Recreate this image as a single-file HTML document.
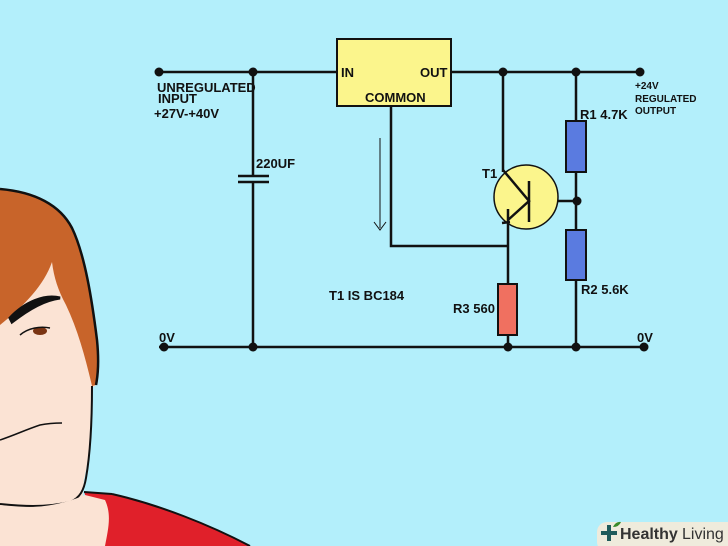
<!DOCTYPE html>
<html><head><style>
body{margin:0;width:728px;height:546px;overflow:hidden;background:#b3effb}
svg{display:block}
text{font-family:"Liberation Sans",sans-serif;font-weight:bold;fill:#111}
</style></head><body>
<svg width="728" height="546" viewBox="0 0 728 546" xmlns="http://www.w3.org/2000/svg">
<rect width="728" height="546" fill="#b3effb"/>
<!-- face -->
<path d="M0,189 C35,192 60,205 72,228 C85,255 92,300 97,340 C99,360 98,375 96,385 L92,388 C92,420 90,455 84,480 L82,505 C60,510 30,512 0,510 Z" fill="#fbe3d4"/>
<path d="M0,189 C35,192 60,205 72,228 C85,255 92,300 97,340 C99,360 98,375 96,385 L92,386 C86,360 78,330 66,305 C58,290 54,278 52,262 C44,285 25,305 0,325 Z" fill="#c8642a"/>
<path d="M0,189 C35,192 60,205 72,228 C85,255 92,300 97,340 C99,360 98,375 96,385" fill="none" stroke="#111" stroke-width="2.5"/>
<path d="M92,386 C92,420 90,455 86,478 C84,490 80,498 70,502 C45,508 20,506 0,504" fill="none" stroke="#111" stroke-width="2"/>
<path d="M10,318 C25,302 45,294 60,298 C45,300 30,308 12,322 Z" fill="#111" stroke="#111" stroke-width="3"/>
<ellipse cx="40" cy="331" rx="7" ry="4" fill="#7a3412"/>
<path d="M20,335 C28,328 40,326 50,328" fill="none" stroke="#111" stroke-width="1.5"/>
<path d="M0,440 C15,435 25,430 40,425 C50,423 58,423 62,423" fill="none" stroke="#111" stroke-width="1.5"/>
<path d="M84,492 L112,494 C160,505 210,525 250,546 L105,546 Z" fill="#e0202a"/>
<path d="M112,494 C160,505 210,525 250,546" fill="none" stroke="#111" stroke-width="2"/>
<path d="M84,492 L112,494" fill="none" stroke="#111" stroke-width="2"/>
<path d="M0,505 C30,510 60,506 85,495 L105,500 C112,515 108,530 105,546 L0,546 Z" fill="#fbe3d4"/>
<!-- circuit -->
<g stroke="#111" stroke-width="2.5" fill="none">
<path d="M159,72 H337 M451,72 H640"/>
<path d="M159,347 H640"/>
<path d="M253,72 V176 M238,176 H269 M238,182 H269 M253,182 V347"/>
<path d="M391,106 V246 H508"/>
<path d="M503,72 V172"/>
<path d="M508,210 V284 M508,335 V347"/>
<path d="M576,72 V121 M576,172 V230 M576,280 V347"/>
<path d="M529,201 H576"/>
</g>
<rect x="337" y="39" width="114" height="67" fill="#fbf58c" stroke="#111" stroke-width="2"/>
<circle cx="526" cy="197" r="32" fill="#fbf58c" stroke="#111" stroke-width="1.5"/>
<g stroke="#111" stroke-width="2.5" fill="none">
<path d="M529,181 V222"/>
<path d="M503,170 L529,201 L508,220 M508,209 V222"/>
<path d="M502,223 L510,222"/>
</g>
<path d="M380,138 V228 M374,222 L380,230 L386,222" stroke="#111" stroke-width="1" fill="none"/>
<rect x="566" y="121" width="20" height="51" fill="#5a7be0" stroke="#111" stroke-width="2"/>
<rect x="566" y="230" width="20" height="50" fill="#5a7be0" stroke="#111" stroke-width="2"/>
<rect x="498" y="284" width="19" height="51" fill="#f07060" stroke="#111" stroke-width="2"/>
<g fill="#111">
<circle cx="159" cy="72" r="4.5"/><circle cx="253" cy="72" r="4.5"/><circle cx="503" cy="72" r="4.5"/><circle cx="576" cy="72" r="4.5"/><circle cx="640" cy="72" r="4.5"/>
<circle cx="164" cy="347" r="4.5"/><circle cx="253" cy="347" r="4.5"/><circle cx="508" cy="347" r="4.5"/><circle cx="576" cy="347" r="4.5"/><circle cx="644" cy="347" r="4.5"/>
<circle cx="577" cy="201" r="4.5"/>
</g>
<text x="341" y="77" font-size="13">IN</text>
<text x="420" y="77" font-size="13">OUT</text>
<text x="365" y="102" font-size="13">COMMON</text>
<text x="157" y="92" font-size="13">UNREGULATED</text>
<text x="158" y="103" font-size="13">INPUT</text>
<text x="154" y="118" font-size="13">+27V-+40V</text>
<text x="256" y="168" font-size="13">220UF</text>
<text x="482" y="178" font-size="13">T1</text>
<text x="580" y="119" font-size="13">R1 4.7K</text>
<text x="581" y="294" font-size="13">R2 5.6K</text>
<text x="453" y="313" font-size="13">R3 560</text>
<text x="329" y="300" font-size="13">T1 IS BC184</text>
<text x="635" y="89" font-size="10">+24V</text>
<text x="635" y="102" font-size="10">REGULATED</text>
<text x="635" y="114" font-size="10">OUTPUT</text>
<text x="159" y="342" font-size="13">0V</text>
<text x="637" y="342" font-size="13">0V</text>
<!-- watermark -->
<rect x="597" y="522" width="140" height="30" rx="10" fill="#f5ead8" opacity="0.9"/>
<path d="M601,533 H617 M609,525 V541" stroke="#1f5b5b" stroke-width="4"/>
<path d="M613,527 q3,-6 8,-5 q-2,5 -8,5z" fill="#3a8a2a"/>
<text x="620" y="539" font-size="16" style="fill:#333">Healthy</text>
<text x="682" y="539" font-size="16" style="fill:#333;font-weight:normal">Living</text>
</svg>
</body></html>
